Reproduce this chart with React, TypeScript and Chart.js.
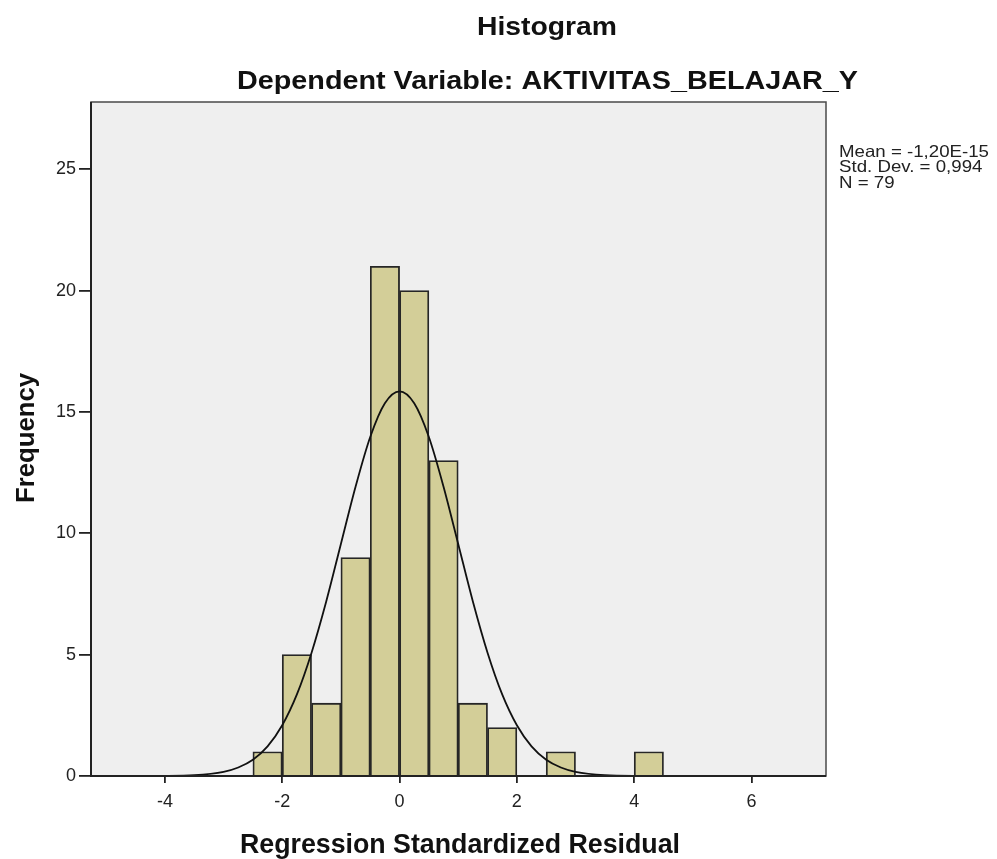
import React, { useEffect, useRef } from "react";
import { Chart, registerables } from "chart.js";
Chart.register(...registerables);

const binCenters = [-2.25, -1.75, -1.25, -0.75, -0.25, 0.25, 0.75, 1.25, 1.75, 2.75, 4.25];
const binCounts = [1, 5, 3, 9, 21, 20, 13, 3, 2, 1, 1];
const curveX = [-5.26, -4, -3.5, -3, -2.75, -2.5, -2.25, -2, -1.75, -1.5, -1.25, -1, -0.75, -0.5, -0.25, 0, 0.25, 0.5, 0.75, 1, 1.25, 1.5, 1.75, 2, 2.25, 2.5, 2.75, 3, 3.5, 4, 7.27];
const curveY = [0, 0.005, 0.03, 0.17, 0.35, 0.67, 1.22, 2.09, 3.36, 5.08, 7.19, 9.56, 11.92, 13.97, 15.36, 15.85, 15.36, 13.97, 11.92, 9.56, 7.19, 5.08, 3.36, 2.09, 1.22, 0.67, 0.35, 0.17, 0.03, 0.005, 0];
const xTicks = [-4, -2, 0, 2, 4, 6];
const yTicks = [0, 5, 10, 15, 20, 25];
const titleText = "Histogram";
const subtitleText = "Dependent Variable: AKTIVITAS_BELAJAR_Y";
const xTitle = "Regression Standardized Residual";
const yTitle = "Frequency";
const statLines = ["Mean = -1,20E-15", "Std. Dev. = 0,994", "N = 79"];

const FONT = "'Liberation Sans', Arial, sans-serif";

function fitText(ctx: CanvasRenderingContext2D, text: string, x: number, y: number, font: string, width: number, align: "center" | "left") {
  ctx.save();
  ctx.font = font;
  const w = ctx.measureText(text).width;
  const sx = width / w;
  ctx.translate(x, y);
  ctx.scale(sx, 1);
  ctx.textAlign = align;
  ctx.textBaseline = "alphabetic";
  ctx.fillText(text, 0, 0);
  ctx.restore();
}

const decorPlugin = {
  id: "decor",
  beforeDatasetsDraw(chart: any) {
    const { ctx, chartArea: a } = chart;
    ctx.save();
    ctx.fillStyle = "#efefef";
    ctx.fillRect(a.left, a.top, a.right - a.left, a.bottom - a.top);
    ctx.restore();
  },
  afterDraw(chart: any) {
    const { ctx, chartArea: a } = chart;
    ctx.save();
    ctx.strokeStyle = "#4a4a4a";
    ctx.lineWidth = 1.5;
    ctx.strokeRect(a.left, a.top, a.right - a.left, a.bottom - a.top);
    ctx.strokeStyle = "#222";
    ctx.lineWidth = 2;
    ctx.beginPath();
    ctx.moveTo(a.left, a.top);
    ctx.lineTo(a.left, a.bottom);
    ctx.lineTo(a.right, a.bottom);
    ctx.stroke();
    ctx.fillStyle = "#111";
    fitText(ctx, titleText, 547, 35, `bold 25px ${FONT}`, 140, "center");
    fitText(ctx, subtitleText, 547.5, 89, `bold 25px ${FONT}`, 621, "center");
    fitText(ctx, xTitle, 460, 853, `bold 27px ${FONT}`, 440, "center");
    ctx.save();
    ctx.translate(34, 438);
    ctx.rotate(-Math.PI / 2);
    fitText(ctx, yTitle, 0, 0, `bold 25px ${FONT}`, 130, "center");
    ctx.restore();
    ctx.fillStyle = "#222";
    const sf = `16.5px ${FONT}`;
    ctx.font = sf;
    const scale = 150 / ctx.measureText(statLines[0]).width;
    statLines.forEach((s, i) => {
      ctx.font = sf;
      const w = ctx.measureText(s).width;
      fitText(ctx, s, 839, 157 + i * 15.3, sf, w * scale, "left");
    });
    ctx.restore();
  },
};

export default function App() {
  const ref = useRef<HTMLCanvasElement>(null);
  useEffect(() => {
    if (!ref.current) return;
    const chart = new Chart(ref.current, {
      type: "bar",
      data: {
        datasets: [
          {
            type: "line",
            data: curveX.map((x, i) => ({ x, y: curveY[i] })),
            borderColor: "#111",
            borderWidth: 1.8,
            pointRadius: 0,
            cubicInterpolationMode: "monotone",
            fill: false,
            order: 0,
          } as any,
          {
            type: "bar",
            data: binCenters.map((x, i) => ({ x, y: binCounts[i] })),
            backgroundColor: "#d3ce98",
            borderColor: "#262626",
            borderWidth: 1.8,
            barPercentage: 1,
            categoryPercentage: 1,
            order: 1,
          } as any,
        ],
      },
      options: {
        responsive: false,
        animation: false,
        devicePixelRatio: 1,
        layout: { padding: { top: 102, right: 171, left: 0, bottom: 0 } },
        plugins: { legend: { display: false }, tooltip: { enabled: false }, title: { display: false } },
        scales: {
          x: {
            type: "linear",
            min: -5.26,
            max: 7.27,
            offset: false,
            grid: { display: true, offset: false, drawOnChartArea: false, drawTicks: true, tickLength: 7, color: "#222", lineWidth: 1.8 },
            border: { display: false },
            ticks: { font: { size: 18, family: FONT }, color: "#222", padding: 8, maxRotation: 0 },
            afterBuildTicks: (s: any) => {
              s.ticks = xTicks.map((v) => ({ value: v }));
            },
            afterFit: (s: any) => {
              s.height = 83;
            },
          },
          y: {
            type: "linear",
            min: 0,
            max: 27.77,
            grid: { display: true, offset: false, drawOnChartArea: false, drawTicks: true, tickLength: 12, color: "#222", lineWidth: 1.8 },
            border: { display: false },
            ticks: { font: { size: 18, family: FONT }, color: "#222", padding: 3 },
            afterBuildTicks: (s: any) => {
              s.ticks = yTicks.map((v) => ({ value: v }));
            },
            afterFit: (s: any) => {
              s.width = 91;
            },
          },
        },
      },
      plugins: [decorPlugin],
    });
    return () => chart.destroy();
  }, []);
  return (
    <canvas
      ref={ref}
      width={997}
      height={859}
      style={{ position: "absolute", left: 0, top: 0, width: 997, height: 859 }}
    />
  );
}
